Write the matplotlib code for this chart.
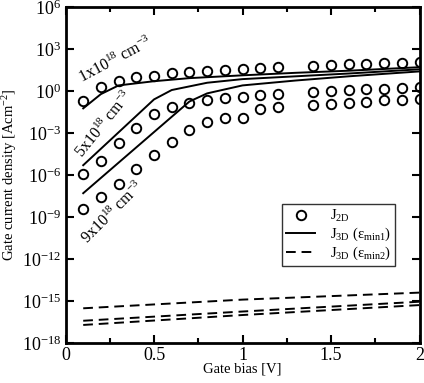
import numpy as np
import matplotlib
matplotlib.use('Agg')
import matplotlib.pyplot as plt
from matplotlib.ticker import FixedLocator, NullLocator, MultipleLocator, LogFormatterMathtext
from matplotlib.lines import Line2D

plt.rcParams['font.family'] = 'serif'
plt.rcParams['font.serif'] = ['Liberation Serif', 'DejaVu Serif']
plt.rcParams['mathtext.fontset'] = 'custom'
plt.rcParams['mathtext.rm'] = 'Liberation Serif'
plt.rcParams['mathtext.it'] = 'Liberation Serif:italic'
plt.rcParams['font.size'] = 11

# J_2D points (log10 of current density)
x_2d = [0.1, 0.2, 0.3, 0.4, 0.5, 0.6, 0.7, 0.8, 0.9, 1.0, 1.1, 1.2,
        1.4, 1.5, 1.6, 1.7, 1.8, 1.9, 2.0]
log_2d_1 = [-0.69, 0.26, 0.74, 0.98, 1.09, 1.29, 1.36, 1.43, 1.5, 1.57, 1.62, 1.69,
            1.81, 1.83, 1.9, 1.93, 1.98, 2.02, 2.05]
log_2d_5 = [-5.95, -4.98, -3.69, -2.62, -1.67, -1.12, -0.83, -0.64, -0.5, -0.4, -0.31, -0.24,
            -0.05, 0.0, 0.07, 0.12, 0.17, 0.21, 0.26]
log_2d_9 = [-8.43, -7.55, -6.66, -5.55, -4.6, -3.65, -2.76, -2.21, -1.96, -1.9, -1.29, -1.17,
            -1.0, -0.95, -0.86, -0.76, -0.67, -0.64, -0.6]

# J_3D (eps_min1), solid
x_s1 = [0.1, 0.2, 0.3, 0.5, 0.7, 1.0, 1.3, 1.6, 2.0]
log_s1 = [-1.24, -0.22, 0.4, 0.7, 0.92, 1.12, 1.3, 1.45, 1.7]
x_s5 = [0.1, 0.5, 0.6, 0.8, 1.0, 1.3, 1.6, 2.0]
log_s5 = [-5.3, -0.6, 0.07, 0.59, 0.85, 1.05, 1.25, 1.55]
x_s9 = [0.1, 0.7, 0.8, 1.0, 1.3, 1.6, 2.0]
log_s9 = [-7.3, -0.75, -0.17, 0.4, 0.75, 1.05, 1.4]

# J_3D (eps_min2), dashed
x_d = [0.1, 1.0, 2.0]
log_d1 = [-15.52, -14.9, -14.4]
log_d5 = [-16.41, -15.75, -15.05]
log_d9 = [-16.71, -16.0, -15.29]

fig = plt.figure(figsize=(4.24, 3.83), dpi=100)
ax = fig.add_axes([0.1545, 0.1044, 0.835, 0.8773])

for ly in (log_2d_1, log_2d_5, log_2d_9):
    ax.plot(x_2d, 10.0 ** np.array(ly), 'o', mfc='none', mec='black', ms=6.8, mew=1.4)

for xs, ly in ((x_s1, log_s1), (x_s5, log_s5), (x_s9, log_s9)):
    ax.plot(xs, 10.0 ** np.array(ly), '-', color='black', lw=1.4)

for ly in (log_d1, log_d5, log_d9):
    ax.plot(x_d, 10.0 ** np.array(ly), '--', color='black', lw=1.4, dashes=(5, 3))

ax.set_yscale('log')
ax.set_xlim(0, 2)
ax.set_ylim(1e-18, 1e6)
ax.yaxis.set_major_locator(FixedLocator(10.0 ** np.arange(-18, 7, 3)))
ax.yaxis.set_major_formatter(LogFormatterMathtext())
ax.yaxis.set_minor_locator(NullLocator())
ax.xaxis.set_major_locator(MultipleLocator(0.5))
ax.xaxis.set_minor_locator(MultipleLocator(0.25))
ax.set_xticks([0, 0.5, 1, 1.5, 2])
ax.set_xticklabels(['0', '0.5', '1', '1.5', '2'])

ax.tick_params(which='both', direction='in', top=True, right=True, width=1.5)
ax.tick_params(which='major', length=6, labelsize=13, pad=3)
ax.tick_params(which='minor', length=3.5)
for s in ax.spines.values():
    s.set_linewidth(2)

ax.set_xlabel('Gate bias [V]', fontsize=10.5, labelpad=-1)
ax.set_ylabel(r'Gate current density [Acm$^{-2}$]', fontsize=10.5, labelpad=2)

ax.text(0.28, 150, r'1x10$^{18}$ cm$^{-3}$', rotation=28, fontsize=11.5,
        ha='center', va='center')
ax.text(0.22, 4e-3, r'5x10$^{18}$ cm$^{-3}$', rotation=51, fontsize=11.5,
        ha='center', va='center')
ax.text(0.27, 2e-9, r'9x10$^{18}$ cm$^{-3}$', rotation=45, fontsize=11.5,
        ha='center', va='center')

handles = [
    Line2D([], [], ls='none', marker='o', mfc='none', mec='black', ms=6.8, mew=1.4),
    Line2D([], [], ls='-', color='black', lw=1.4),
    Line2D([], [], ls='--', color='black', lw=1.4, dashes=(5, 3)),
]
labels = [r'J$_{\rm 2D}$', r'J$_{\rm 3D}$ (ε$_{\rm min1}$)', r'J$_{\rm 3D}$ (ε$_{\rm min2}$)']
leg = ax.legend(handles, labels, loc='upper left', bbox_to_anchor=(0.611, 0.414),
                fontsize=10.5, frameon=True, fancybox=False, edgecolor='black',
                borderpad=0.3, labelspacing=0.1, handlelength=2.0, handletextpad=1.0,
                borderaxespad=0)
leg.get_frame().set_linewidth(1.0)

fig.savefig('out.png', dpi=100)
